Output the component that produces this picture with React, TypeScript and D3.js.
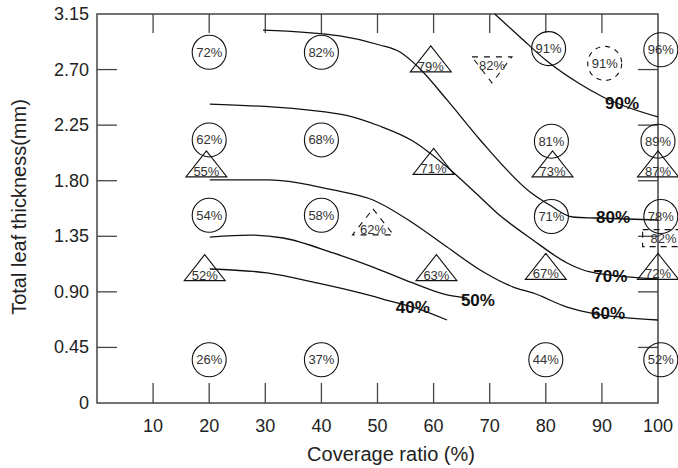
import * as d3 from "d3";

// axis ticks
const xTicks = [10, 20, 30, 40, 50, 60, 70, 80, 90];
const xTickLabels = [10, 20, 30, 40, 50, 60, 70, 80, 90, 100];
const yTicks = [0.45, 0.9, 1.35, 1.8, 2.25, 2.7];
const yTickLabels = ["0", "0.45", "0.90", "1.35", "1.80", "2.25", "2.70", "3.15"];
const yTickValues = [0, 0.45, 0.9, 1.35, 1.8, 2.25, 2.7, 3.15];

// circle markers
const circleCoverage = [20, 40, 80.5, 100.5, 20, 40, 81, 100, 20, 40, 81, 100.5, 20, 40, 80, 100.5];
const circleThickness = [2.84, 2.84, 2.87, 2.86, 2.13, 2.13, 2.12, 2.12, 1.52, 1.52, 1.51, 1.51, 0.35, 0.35, 0.35, 0.35];
const circleLabels = ["72%", "82%", "91%", "96%", "62%", "68%", "81%", "89%", "54%", "58%", "71%", "78%", "26%", "37%", "44%", "52%"];

// triangle markers
const triCoverage = [19.5, 59.5, 60, 81.2, 100, 19.2, 60.5, 80, 100];
const triThickness = [1.9, 2.75, 1.92, 1.9, 1.9, 1.06, 1.06, 1.07, 1.07];
const triLabels = ["55%", "79%", "71%", "73%", "87%", "52%", "63%", "67%", "72%"];

// dashed markers
const dashCircle = { coverage: 90.5, thickness: 2.75, label: "91%" };
const dashTriDown = { coverage: 70.4, thickness: 2.73, label: "82%" };
const dashTriUp = { coverage: 49.2, thickness: 1.43, label: "62%" };
const dashSquare = { coverage: 101, thickness: 1.335, label: "82%" };

// contour lines
const c40x = [20.1, 30.3, 39.2, 46.9, 53.5, 56.3, 62.4];
const c40y = [1.085, 1.053, 0.972, 0.891, 0.81, 0.777, 0.672];
const c50x = [20.1, 27.3, 33.2, 42.1, 49.2, 56.3, 62.4, 66.0];
const c50y = [1.344, 1.36, 1.336, 1.215, 1.101, 0.972, 0.875, 0.85];
const c60x = [20.1, 30.3, 42.1, 49.2, 56.3, 62.4, 68.3, 74.2, 77.7, 83.8, 87.9, 100];
const c60y = [1.806, 1.806, 1.725, 1.644, 1.458, 1.263, 1.077, 0.939, 0.891, 0.777, 0.729, 0.672];
const c70x = [20.1, 43.3, 50.4, 56.3, 62.4, 67.7, 71.3, 77.7, 83.8, 87.9, 100];
const c70y = [2.421, 2.34, 2.243, 2.122, 1.911, 1.692, 1.539, 1.32, 1.134, 1.061, 1.004];
const c80x = [29.6, 43.3, 50.4, 54.0, 57.6, 62.4, 68.3, 77.2, 80.7, 84.8, 89.1, 100];
const c80y = [3.02, 2.972, 2.899, 2.842, 2.705, 2.454, 2.13, 1.709, 1.603, 1.506, 1.498, 1.482];
const c90x = [70.9, 75.4, 80.2, 86.1, 90.2, 100];
const c90y = [3.15, 2.964, 2.769, 2.583, 2.478, 2.316];

const contourNames = ["40%", "50%", "60%", "70%", "80%", "90%"];
const contourLabelX = [56.3, 67.9, 91.1, 91.5, 92.0, 93.6];
const contourLabelY = [0.77, 0.834, 0.721, 1.028, 1.506, 2.429];

const W = 678;
const H = 468;
const font = "Arial, 'Liberation Sans', sans-serif";

export default function App() {
  const x = d3.scaleLinear().domain([0, 100]).range([97, 658]);
  const y = d3.scaleLinear().domain([0, 3.15]).range([403, 14]);

  const contours = [
    [c40x, c40y],
    [c50x, c50y],
    [c60x, c60y],
    [c70x, c70y],
    [c80x, c80y],
    [c90x, c90y],
  ];

  const line = d3
    .line<number>()
    .x((d) => d)
    .y((d) => d)
    .curve(d3.curveMonotoneX);

  const contourPath = (xs: number[], ys: number[]) =>
    d3
      .line<number>()
      .x((d, i) => x(xs[i]))
      .y((d, i) => y(ys[i]))
      .curve(d3.curveMonotoneX)(xs);

  const triUp = (cx: number, cy: number) =>
    `M${cx},${cy - 17.5}L${cx + 20.5},${cy + 8.5}L${cx - 20.5},${cy + 8.5}Z`;
  const triDown = (cx: number, cy: number) =>
    `M${cx - 20},${cy - 9}L${cx + 20},${cy - 9}L${cx},${cy + 17}Z`;

  const ink = "#111";
  const frame = "#444";

  return (
    <svg
      width={W}
      height={H}
      style={{ position: "absolute", left: 0, top: 0, background: "#fff" }}
      fontFamily={font}
    >
      {/* frame */}
      <rect x={x(0)} y={y(3.15)} width={x(100) - x(0)} height={y(0) - y(3.15)} fill="none" stroke={frame} strokeWidth={1.5} />

      {/* ticks */}
      {xTicks.map((t) => (
        <g key={"xt" + t}>
          <line x1={x(t)} x2={x(t)} y1={y(0)} y2={y(0) - 20} stroke={frame} strokeWidth={1.3} />
          <line x1={x(t)} x2={x(t)} y1={y(3.15)} y2={y(3.15) + 19} stroke={frame} strokeWidth={1.3} />
        </g>
      ))}
      {yTicks.map((t) => (
        <g key={"yt" + t}>
          <line x1={x(0)} x2={x(0) + 20} y1={y(t)} y2={y(t)} stroke={frame} strokeWidth={1.3} />
          <line x1={x(100)} x2={x(100) - 20} y1={y(t)} y2={y(t)} stroke={frame} strokeWidth={1.3} />
        </g>
      ))}

      {/* tick labels */}
      {xTickLabels.map((t) => (
        <text key={"xl" + t} x={x(t)} y={432} textAnchor="middle" fontSize={18} fill="#222">
          {t}
        </text>
      ))}
      {yTickValues.map((t, i) => (
        <text key={"yl" + t} x={89} y={y(t) + 6} textAnchor="end" fontSize={18} fill="#222">
          {yTickLabels[i]}
        </text>
      ))}

      {/* axis titles */}
      <text x={391} y={461} textAnchor="middle" fontSize={20} fill="#222">
        Coverage ratio (%)
      </text>
      <text transform="translate(26,207) rotate(-90)" textAnchor="middle" fontSize={20} fill="#222">
        Total leaf thickness(mm)
      </text>

      {/* contour lines */}
      {contours.map(([xs, ys], i) => (
        <path key={"c" + i} d={contourPath(xs, ys) || ""} fill="none" stroke={ink} strokeWidth={1.3} />
      ))}
      {contourNames.map((n, i) => (
        <text
          key={"cl" + n}
          x={x(contourLabelX[i])}
          y={y(contourLabelY[i])}
          textAnchor="middle"
          dominantBaseline="central"
          fontSize={17}
          fontWeight="bold"
          fill={ink}
        >
          {n}
        </text>
      ))}

      {/* circles */}
      {circleLabels.map((l, i) => (
        <g key={"ci" + i}>
          <circle cx={x(circleCoverage[i])} cy={y(circleThickness[i])} r={17} fill="none" stroke={ink} strokeWidth={1.1} />
          <text x={x(circleCoverage[i])} y={y(circleThickness[i])} textAnchor="middle" dominantBaseline="central" fontSize={13} fill="#333">
            {l}
          </text>
        </g>
      ))}

      {/* triangles */}
      {triLabels.map((l, i) => (
        <g key={"tr" + i}>
          <path d={triUp(x(triCoverage[i]), y(triThickness[i]))} fill="none" stroke={ink} strokeWidth={1.1} />
          <text x={x(triCoverage[i])} y={y(triThickness[i]) + 3} textAnchor="middle" dominantBaseline="central" fontSize={13} fill="#333">
            {l}
          </text>
        </g>
      ))}

      {/* dashed markers */}
      <circle cx={x(dashCircle.coverage)} cy={y(dashCircle.thickness)} r={17} fill="none" stroke={ink} strokeWidth={1.1} strokeDasharray="5 5" />
      <text x={x(dashCircle.coverage)} y={y(dashCircle.thickness)} textAnchor="middle" dominantBaseline="central" fontSize={13} fill="#333">
        {dashCircle.label}
      </text>
      <path d={triDown(x(dashTriDown.coverage), y(dashTriDown.thickness))} fill="none" stroke={ink} strokeWidth={1.1} strokeDasharray="6 6" />
      <text x={x(dashTriDown.coverage)} y={y(dashTriDown.thickness)} textAnchor="middle" dominantBaseline="central" fontSize={13} fill="#333">
        {dashTriDown.label}
      </text>
      <path d={triUp(x(dashTriUp.coverage), y(dashTriUp.thickness))} fill="none" stroke={ink} strokeWidth={1.1} strokeDasharray="6 6" />
      <text x={x(dashTriUp.coverage)} y={y(dashTriUp.thickness) + 3} textAnchor="middle" dominantBaseline="central" fontSize={13} fill="#333">
        {dashTriUp.label}
      </text>
      <rect
        x={x(dashSquare.coverage) - 21}
        y={y(dashSquare.thickness) - 8.5}
        width={42}
        height={17}
        fill="none"
        stroke={ink}
        strokeWidth={1.1}
        strokeDasharray="6 5"
      />
      <text x={x(dashSquare.coverage)} y={y(dashSquare.thickness)} textAnchor="middle" dominantBaseline="central" fontSize={13} fill="#333">
        {dashSquare.label}
      </text>
    </svg>
  );
}
